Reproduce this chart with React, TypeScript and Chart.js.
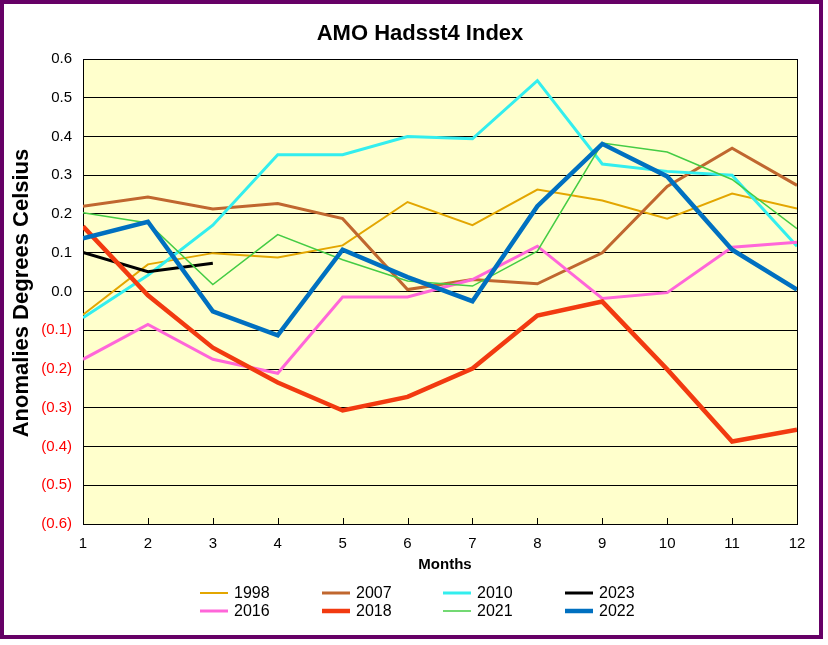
import React, { useEffect, useRef } from "react";
import { Chart, registerables } from "chart.js";

Chart.register(...registerables);

const FONT = "'Liberation Sans', Arial, sans-serif";

const months = [1, 2, 3, 4, 5, 6, 7, 8, 9, 10, 11, 12];
const yTicks = [-0.6, -0.5, -0.4, -0.3, -0.2, -0.1, 0, 0.1, 0.2, 0.3, 0.4, 0.5, 0.6];

const y1998 = [-0.06, 0.07, 0.099, 0.088, 0.119, 0.231, 0.171, 0.263, 0.235, 0.188, 0.253, 0.214];
const y2007 = [0.22, 0.244, 0.213, 0.227, 0.188, 0.005, 0.031, 0.02, 0.1, 0.271, 0.37, 0.274];
const y2010 = [-0.068, 0.042, 0.171, 0.353, 0.353, 0.4, 0.394, 0.544, 0.329, 0.31, 0.3, 0.117];
const y2023 = [0.101, 0.051, 0.073];
const y2016 = [-0.175, -0.085, -0.175, -0.211, -0.014, -0.014, 0.031, 0.117, -0.018, -0.003, 0.114, 0.127];
const y2018 = [0.168, -0.01, -0.145, -0.235, -0.307, -0.272, -0.199, -0.062, -0.026, -0.201, -0.387, -0.357];
const y2021 = [0.203, 0.177, 0.018, 0.147, 0.082, 0.027, 0.014, 0.104, 0.383, 0.36, 0.289, 0.162];
const y2022 = [0.137, 0.18, -0.051, -0.113, 0.108, 0.037, -0.025, 0.22, 0.381, 0.297, 0.108, 0.005];

// series in Excel order (later ones drawn on top)
const seriesNames = ["1998", "2007", "2010", "2023", "2016", "2018", "2021", "2022"];
const seriesValues = [y1998, y2007, y2010, y2023, y2016, y2018, y2021, y2022];
const seriesColors = ["#E3A600", "#C0672F", "#33EEEE", "#000000", "#FF66D9", "#F23A10", "#44CC44", "#0070C0"];
const seriesWidths = [2, 3, 3, 3, 3, 4.5, 1.5, 4.5];

const fmt = (v: number) => {
  const r = Math.round(v * 10) / 10;
  if (r < 0) return "(" + Math.abs(r).toFixed(1) + ")";
  return Math.abs(r).toFixed(1);
};

const decor = {
  id: "decor",
  beforeDraw(chart: any) {
    const { ctx, chartArea: a, width, height } = chart;
    ctx.save();
    ctx.fillStyle = "#ffffff";
    ctx.fillRect(0, 0, width, height);
    ctx.fillStyle = "#FFFFCC";
    ctx.fillRect(a.left, a.top, a.right - a.left, a.bottom - a.top);
    ctx.restore();
  },
  beforeDatasetsDraw(chart: any) {
    const { ctx, chartArea: a } = chart;
    const xs = chart.scales.x;
    ctx.save();
    ctx.strokeStyle = "#000";
    ctx.lineWidth = 1;
    ctx.strokeRect(Math.round(a.left) + 0.5, Math.round(a.top) + 0.5, Math.round(a.right - a.left), Math.round(a.bottom - a.top));
    ctx.beginPath();
    for (let i = 1; i < months.length - 1; i++) {
      const x = Math.round(xs.getPixelForValue(months[i])) + 0.5;
      ctx.moveTo(x, Math.round(a.bottom));
      ctx.lineTo(x, Math.round(a.bottom) - 6);
    }
    ctx.stroke();
    ctx.restore();
  },
  afterDraw(chart: any) {
    const { ctx } = chart;
    ctx.save();
    // frame
    ctx.strokeStyle = "#660066";
    ctx.lineWidth = 4;
    ctx.strokeRect(2, 2, 819, 635);
    // title
    ctx.fillStyle = "#000";
    ctx.textAlign = "center";
    ctx.textBaseline = "alphabetic";
    ctx.font = "bold 22px " + FONT;
    ctx.fillText("AMO Hadsst4 Index", 420, 39.5);
    // x title
    ctx.font = "bold 15px " + FONT;
    ctx.fillText("Months", 445, 569);
    // y title
    ctx.save();
    ctx.translate(28, 293);
    ctx.rotate(-Math.PI / 2);
    ctx.font = "bold 22px " + FONT;
    ctx.fillText("Anomalies Degrees Celsius", 0, 0);
    ctx.restore();
    // legend
    const colX = [200, 322, 443, 565];
    const rowY = [593, 611];
    ctx.font = "16px " + FONT;
    ctx.textAlign = "left";
    ctx.textBaseline = "middle";
    seriesNames.forEach((name, i) => {
      const c = i % 4;
      const r = Math.floor(i / 4);
      const x = colX[c];
      const y = rowY[r];
      ctx.strokeStyle = seriesColors[i];
      ctx.lineWidth = seriesWidths[i];
      ctx.lineCap = "butt";
      ctx.beginPath();
      ctx.moveTo(x, y);
      ctx.lineTo(x + 28, y);
      ctx.stroke();
      ctx.fillStyle = "#000";
      ctx.fillText(name, x + 34, y + 0.5);
    });
    ctx.restore();
  },
};

export default function App() {
  const ref = useRef<HTMLCanvasElement | null>(null);
  useEffect(() => {
    if (!ref.current) return;
    Chart.defaults.font.family = FONT;
    const chart = new Chart(ref.current, {
      type: "line",
      data: {
        datasets: seriesNames.map((name, i) => ({
          label: name,
          data: seriesValues[i].map((v, j) => ({ x: months[j], y: v })),
          borderColor: seriesColors[i],
          backgroundColor: seriesColors[i],
          borderWidth: seriesWidths[i],
          pointRadius: 0,
          tension: 0,
          fill: false,
          order: seriesNames.length - i,
        })),
      },
      options: {
        animation: false,
        responsive: false,
        devicePixelRatio: 1,
        layout: { padding: { left: 0, top: 59, right: 31, bottom: 0 } },
        plugins: { legend: { display: false }, title: { display: false }, tooltip: { enabled: false } },
        scales: {
          x: {
            type: "linear",
            min: 1,
            max: 12,
            afterFit: (s: any) => { s.height = 121; },
            afterBuildTicks: (s: any) => { s.ticks = months.map((m) => ({ value: m })); },
            grid: { display: false, drawTicks: false },
            border: { display: false },
            ticks: {
              font: { size: 15, family: FONT },
              color: "#000",
              padding: 11,
              autoSkip: false,
              maxRotation: 0,
              callback: (v: any) => String(v),
            },
          },
          y: {
            type: "linear",
            min: -0.6,
            max: 0.6,
            afterFit: (s: any) => { s.width = 83; },
            afterBuildTicks: (s: any) => { s.ticks = yTicks.map((v) => ({ value: v })); },
            grid: { color: "#000", lineWidth: 1, drawTicks: false },
            border: { display: false },
            ticks: {
              font: { size: 15, family: FONT },
              color: (c: any) => (c.tick && c.tick.value < -0.001 ? "#FF0000" : "#000000"),
              padding: 11,
              callback: (v: any) => fmt(Number(v)),
            },
          },
        },
      },
      plugins: [decor],
    });
    return () => chart.destroy();
  }, []);
  return (
    <div style={{ position: "fixed", left: 0, top: 0, width: 828, height: 645, background: "#fff" }}>
      <canvas ref={ref} width={828} height={645} style={{ width: 828, height: 645, display: "block" }} />
    </div>
  );
}
